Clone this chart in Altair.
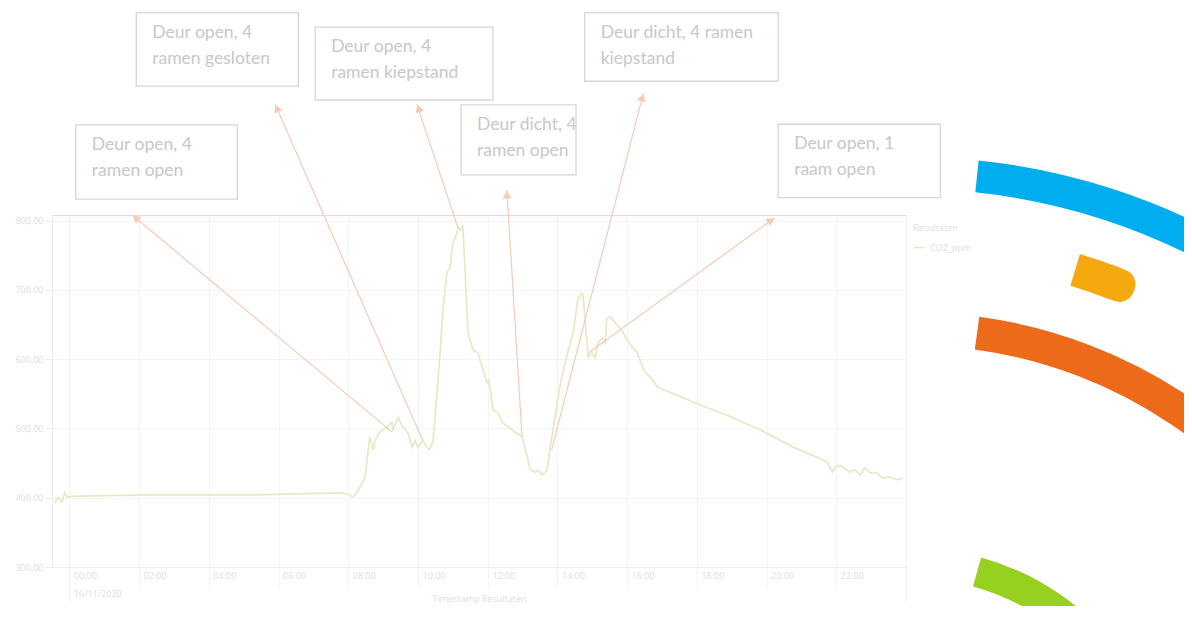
import math
import altair as alt
import pandas as pd

# ---------------- data ----------------
times = [
    "2020-11-15T23:35", "2020-11-15T23:40", "2020-11-15T23:47", "2020-11-15T23:52", "2020-11-15T23:56",
    "2020-11-16T00:01", "2020-11-16T02:19", "2020-11-16T05:11", "2020-11-16T07:46", "2020-11-16T08:00",
    "2020-11-16T08:08", "2020-11-16T08:15", "2020-11-16T08:29", "2020-11-16T08:37", "2020-11-16T08:43",
    "2020-11-16T08:46", "2020-11-16T08:55", "2020-11-16T09:07", "2020-11-16T09:15", "2020-11-16T09:17",
    "2020-11-16T09:26", "2020-11-16T09:34", "2020-11-16T09:43", "2020-11-16T09:50", "2020-11-16T09:55",
    "2020-11-16T10:00", "2020-11-16T10:08", "2020-11-16T10:16", "2020-11-16T10:20", "2020-11-16T10:26",
    "2020-11-16T10:32", "2020-11-16T10:38", "2020-11-16T10:43", "2020-11-16T10:50", "2020-11-16T10:55",
    "2020-11-16T11:00", "2020-11-16T11:07", "2020-11-16T11:09", "2020-11-16T11:14", "2020-11-16T11:17",
    "2020-11-16T11:21", "2020-11-16T11:26", "2020-11-16T11:35", "2020-11-16T11:43", "2020-11-16T11:52",
    "2020-11-16T11:59", "2020-11-16T12:02", "2020-11-16T12:09", "2020-11-16T12:18", "2020-11-16T12:26",
    "2020-11-16T12:38", "2020-11-16T12:50", "2020-11-16T12:59", "2020-11-16T13:08", "2020-11-16T13:13",
    "2020-11-16T13:22", "2020-11-16T13:26", "2020-11-16T13:34", "2020-11-16T13:42", "2020-11-16T13:47",
    "2020-11-16T13:56", "2020-11-16T14:04", "2020-11-16T14:13", "2020-11-16T14:22", "2020-11-16T14:27",
    "2020-11-16T14:35", "2020-11-16T14:41", "2020-11-16T14:44", "2020-11-16T14:53", "2020-11-16T14:59",
    "2020-11-16T15:05", "2020-11-16T15:10", "2020-11-16T15:17", "2020-11-16T15:22", "2020-11-16T15:25",
    "2020-11-16T15:31", "2020-11-16T15:36", "2020-11-16T15:48", "2020-11-16T16:00", "2020-11-16T16:08",
    "2020-11-16T16:17", "2020-11-16T16:22", "2020-11-16T16:31", "2020-11-16T16:40", "2020-11-16T16:52",
    "2020-11-16T16:56", "2020-11-16T17:26", "2020-11-16T17:53", "2020-11-16T18:52", "2020-11-16T19:49",
    "2020-11-16T20:46", "2020-11-16T21:44", "2020-11-16T21:53", "2020-11-16T22:01", "2020-11-16T22:12",
    "2020-11-16T22:23", "2020-11-16T22:32", "2020-11-16T22:41", "2020-11-16T22:49", "2020-11-16T22:58",
    "2020-11-16T23:10", "2020-11-16T23:20", "2020-11-16T23:32", "2020-11-16T23:44", "2020-11-16T23:55",
]
co2_ppm = [
    392, 400, 394, 407, 400,
    402, 404, 404, 407, 405,
    401, 407, 430, 488, 469,
    483, 495, 502, 509, 498,
    515, 502, 493, 473, 483,
    472, 483, 472, 469, 483,
    545, 609, 671, 726, 732,
    768, 782, 791, 786, 794,
    729, 638, 613, 609, 584,
    566, 570, 527, 522, 508,
    501, 493, 488, 459, 440,
    437, 440, 433, 440, 469,
    516, 560, 594, 623, 638,
    685, 695, 693, 603, 609,
    602, 623, 631, 623, 659,
    661, 656, 645, 628, 618,
    610, 599, 581, 574, 560,
    558, 548, 538, 519, 498,
    473, 452, 437, 447, 444,
    437, 440, 433, 443, 436,
    436, 428, 430, 426, 428,
]
series_name = "CO2_ppm"
y_ticks = [300, 400, 500, 600, 700, 800]
x_tick_hours = [0, 2, 4, 6, 8, 10, 12, 14, 16, 18, 20, 22, 24]

# annotations (anchored in time / ppm units)
note_text = [
    "Deur open, 4\nramen open",
    "Deur open, 4\nramen gesloten",
    "Deur open, 4\nramen kiepstand",
    "Deur dicht, 4\nramen open",
    "Deur dicht, 4 ramen\nkiepstand",
    "Deur open, 1\nraam open",
]
box_t1 = ["2020-11-16T00:11", "2020-11-16T01:55", "2020-11-16T07:03", "2020-11-16T11:14", "2020-11-16T14:47", "2020-11-16T20:20"]
box_t2 = ["2020-11-16T04:49", "2020-11-16T06:34", "2020-11-16T12:09", "2020-11-16T14:32", "2020-11-16T20:20", "2020-11-17T00:59"]
box_top = [938, 1100, 1079, 967, 1100, 939]
box_bottom = [831, 994, 974, 866, 1001, 833]

arrow_tail_h = [9.255, 10.14, 11.15, 12.98, 13.84, 14.88]
arrow_tail_ppm = [495, 483, 789, 488, 469, 609]
arrow_head_h = [1.796, 5.90, 9.97, 12.55, 16.46, 20.24]
arrow_head_ppm = [808, 968, 968, 844, 984, 804]

# decorative logo arcs on the right
deco_color = ["#00adef", "#ee6a1b", "#97d01f", "#f6a90f"]
deco_r_inner = [622, 466, 233, 549]
deco_r_outer = [654, 499, 263, 582]
deco_theta0 = [0.1036, 0.1373, 0.2694, 0.2945]
deco_theta1 = [0.95, 1.05, 1.25, 0.37]
cap_theta0 = [0.33]
cap_theta1 = [0.405]

# ---------------- layout ----------------
W, H = 854, 352
PAD = {"left": 44, "top": 207, "right": 278, "bottom": 39}
Y0, Y1 = 300, 808
px_per_h = W / 24.5
px_per_ppm = H / (Y1 - Y0)

def h2iso(h):
    m = int(round((h + 24) * 60))
    d = 15 + m // (24 * 60)
    m = m % (24 * 60)
    return f"2020-11-{d:02d}T{m // 60:02d}:{m % 60:02d}Z"

LINE_C = "#e2ebc3"
ARROW_C = "#f6cbb6"
BOX_C = "#d6d6d6"
TXT_C = "#c8c8c8"
AX_C = "#dedede"
GRID_C = "#f4f4f4"

xscale = alt.Scale(type="utc", domain=[
    alt.DateTime(year=2020, month=11, date=15, hours=23, minutes=30, utc=True),
    alt.DateTime(year=2020, month=11, date=17, hours=0, utc=True)])
yscale = alt.Scale(domain=[Y0, Y1], nice=False, zero=False)

line_df = pd.DataFrame({"t": [s + "Z" for s in times], "ppm": co2_ppm, "serie": series_name})

x_vals = [alt.DateTime(year=2020, month=11, date=16 + h // 24, hours=h % 24, utc=True) for h in x_tick_hours]

x_axis = alt.Axis(
    values=x_vals, title="Timestamp Resultaten", grid=True, gridColor=GRID_C,
    labelExpr="utcdate(datum.value) == 17 ? '' : (utchours(datum.value) == 0 ? [utcFormat(datum.value, '%H:%M'), '16/11/2020'] : utcFormat(datum.value, '%H:%M'))",
    labelAlign="left", labelBaseline="top",
    labelPadding={"condition": {"test": "utchours(datum.value) == 0", "value": -34}, "value": -16},
    labelOffset=4,
    labelLineHeight=18, labelFontSize=9, labelColor=AX_C, labelFont="Open Sans",
    tickSize={"condition": {"test": "utchours(datum.value) == 0", "value": 38}, "value": 20},
    tickColor=GRID_C, domainColor="#eeeeee",
    titleFontSize=9, titleColor=AX_C, titleFontWeight="normal", titleFont="Open Sans",
    titleY=31, titleBaseline="middle",
)
y_axis = alt.Axis(
    values=y_ticks, title=None, grid=True, gridColor=GRID_C,
    labelExpr="format(datum.value, 'd') + ',00'",
    labelFontSize=9, labelColor=AX_C, labelFont="Open Sans", labelPadding=2,
    tickSize=7, tickColor="#ececec", domainColor="#ececec",
)

line = alt.Chart(line_df).mark_line(strokeWidth=1.7, clip=True).encode(
    x=alt.X("t:T", scale=xscale, axis=x_axis),
    y=alt.Y("ppm:Q", scale=yscale, axis=y_axis),
    color=alt.Color("serie:N", scale=alt.Scale(domain=[series_name], range=[LINE_C]),
                    legend=alt.Legend(title="Resultaten", orient="none", legendX=861, legendY=9,
                                      symbolType="stroke", symbolStrokeWidth=1.5, symbolSize=120,
                                      titleFontSize=9, labelFontSize=9, titleColor=AX_C, labelColor=AX_C,
                                      titleFontWeight="normal", titleFont="Open Sans", labelFont="Open Sans",
                                      titlePadding=8)),
)

# arrows
rows = []
for ht, pt, hh, ph in zip(arrow_tail_h, arrow_tail_ppm, arrow_head_h, arrow_head_ppm):
    dx = (hh - ht) * px_per_h
    dy = -(ph - pt) * px_per_ppm
    L = math.hypot(dx, dy)
    ux, uy = dx / L, dy / L
    ang = math.degrees(math.atan2(dx, -dy)) % 360
    hc = hh - 4.5 * ux / px_per_h
    pc = ph + 4.5 * uy / px_per_ppm
    rows.append({"t1": h2iso(ht), "p1": pt, "t2": h2iso(hh), "p2": ph,
                 "tc": h2iso(hc), "pc": pc, "ang": ang})
arrow_df = pd.DataFrame(rows)

arrows = alt.Chart(arrow_df).mark_rule(color=ARROW_C, strokeWidth=1.2).encode(
    x=alt.X("t1:T", scale=xscale), y=alt.Y("p1:Q", scale=yscale),
    x2="t2:T", y2="p2:Q",
)
heads = alt.Chart(arrow_df).mark_point(shape="triangle-up", filled=True, color=ARROW_C,
                                       opacity=1, size=80).encode(
    x=alt.X("tc:T", scale=xscale), y=alt.Y("pc:Q", scale=yscale),
    angle=alt.Angle("ang:Q", scale=None),
)

box_df = pd.DataFrame({"t1": [s + "Z" for s in box_t1], "t2": [s + "Z" for s in box_t2],
                       "top": box_top, "bottom": box_bottom, "label": note_text})
boxes = alt.Chart(box_df).mark_rect(fill="white", stroke=BOX_C, strokeWidth=1.3).encode(
    x=alt.X("t1:T", scale=xscale), x2="t2:T",
    y=alt.Y("top:Q", scale=yscale), y2="bottom:Q",
)
texts = alt.Chart(box_df).mark_text(align="left", baseline="top", dx=16, dy=11, fontSize=17.5,
                                     lineHeight=26, lineBreak="\n", font="Lato", color=TXT_C).encode(
    x=alt.X("t1:T", scale=xscale), y=alt.Y("top:Q", scale=yscale), text="label:N",
)

deco_df = pd.DataFrame({"c": deco_color, "r0": deco_r_inner, "r1": deco_r_outer,
                        "a0": deco_theta0, "a1": deco_theta1})
cap_df = pd.DataFrame({"c": [deco_color[3]], "r0": [deco_r_inner[3]], "r1": [deco_r_outer[3]],
                       "a0": cap_theta0, "a1": cap_theta1})
CX, CY = 859, 596
deco = alt.Chart(deco_df).mark_arc().encode(
    theta=alt.Theta("a0:Q", scale=None), theta2="a1:Q",
    radius=alt.Radius("r1:Q", scale=None), radius2="r0:Q",
    color=alt.Color("c:N", scale=None, legend=None),
    x=alt.value(CX), y=alt.value(CY),
)
cap = alt.Chart(cap_df).mark_arc(cornerRadius=15).encode(
    theta=alt.Theta("a0:Q", scale=None), theta2="a1:Q",
    radius=alt.Radius("r1:Q", scale=None), radius2="r0:Q",
    color=alt.Color("c:N", scale=None, legend=None),
    x=alt.value(CX), y=alt.value(CY),
)

chart = alt.layer(line, arrows, heads, boxes, texts, deco, cap).properties(
    width=W, height=H,
    autosize=alt.AutoSizeParams(type="none"),
    padding=PAD,
).configure_view(stroke=None).configure(background="white")

chart.save("out.html", embed_options={"renderer": "svg", "actions": False})
